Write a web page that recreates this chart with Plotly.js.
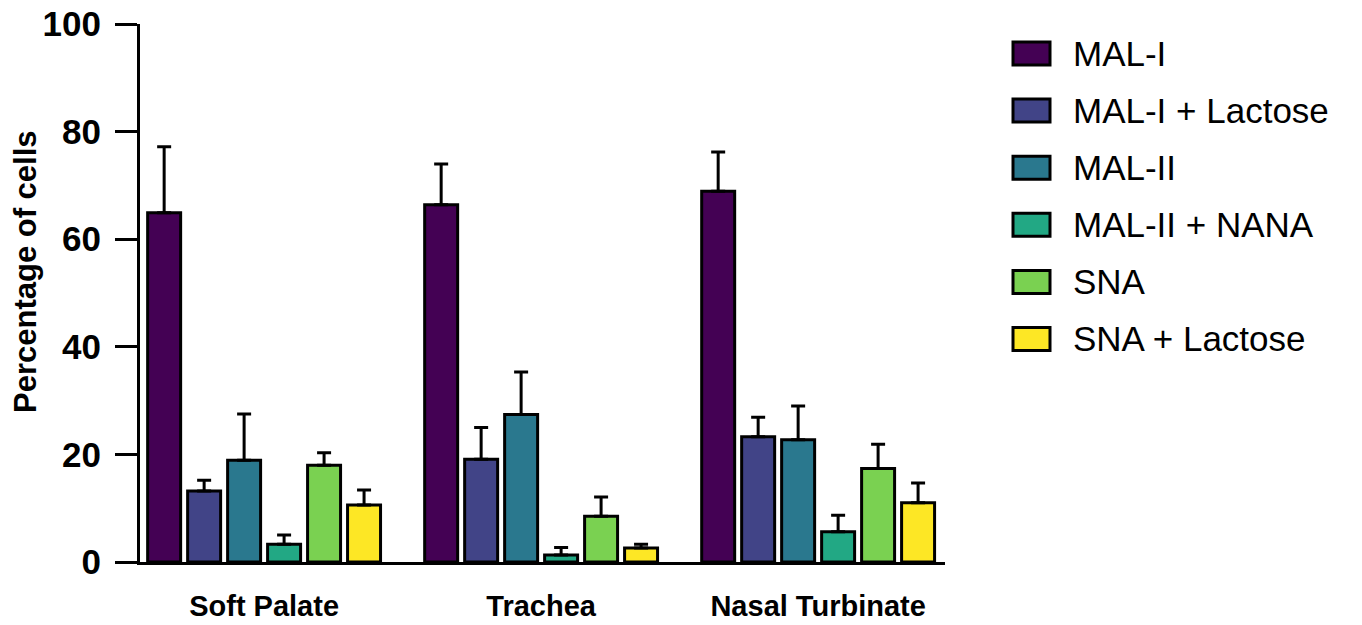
<!DOCTYPE html>
<html>
<head>
<meta charset="utf-8">
<script src="https://cdn.plot.ly/plotly-3.0.1.min.js"></script>
<style>html,body{margin:0;padding:0;background:#fff;}#chart{width:1362px;height:625px;}</style>
</head>
<body>
<div id="chart"></div>
<script>
const categories = ['Soft Palate', 'Trachea', 'Nasal Turbinate'];
const seriesNames = ['MAL-I', 'MAL-I + Lactose', 'MAL-II', 'MAL-II + NANA', 'SNA', 'SNA + Lactose'];
const seriesColors = ['#440154', '#414487', '#2a788e', '#22a884', '#7ad151', '#fde725'];

const malI        = [64.9, 66.4, 68.9];
const malILac     = [13.2, 19.1, 23.3];
const malII       = [18.9, 27.4, 22.7];
const malIINana   = [3.3, 1.3, 5.6];
const sna         = [18.0, 8.5, 17.4];
const snaLac      = [10.6, 2.6, 11.0];

const malIErr      = [12.3, 7.6, 7.3];
const malILacErr   = [2.0, 5.9, 3.6];
const malIIErr     = [8.6, 7.9, 6.3];
const malIINanaErr = [1.7, 1.4, 3.1];
const snaErr       = [2.3, 3.6, 4.5];
const snaLacErr    = [2.8, 0.7, 3.7];

const yTicks = [0, 20, 40, 60, 80, 100];

const values = [malI, malILac, malII, malIINana, sna, snaLac];
const errors = [malIErr, malILacErr, malIIErr, malIINanaErr, snaErr, snaLacErr];

const FONT = '"Liberation Sans", Arial, Helvetica, sans-serif';

const traces = seriesNames.map((name, i) => ({
  type: 'bar',
  name: name,
  x: categories,
  y: values[i],
  marker: { color: seriesColors[i], line: { color: '#000', width: 3 } },
  error_y: {
    type: 'data', symmetric: false,
    array: errors[i], arrayminus: values[i].map(() => 0),
    color: '#000', thickness: 3, width: 7
  },
  showlegend: false
}));

// plot area geometry (pixels)
const W = 1362, H = 625;
const mL = 140, mR = 417, mT = 24, mB = 63;
const pw = W - mL - mR, ph = H - mT - mB;
const px2x = p => (p - mL) / pw;
const px2y = p => (H - mB - p) / ph;

const shapes = [];
const annotations = [];
seriesNames.forEach((name, i) => {
  const cy = 53.5 + i * 57.1;
  shapes.push({
    type: 'rect', xref: 'paper', yref: 'paper',
    x0: px2x(1013), x1: px2x(1050), y0: px2y(cy + 11.5), y1: px2y(cy - 11.5),
    fillcolor: seriesColors[i], line: { color: '#000', width: 3 }
  });
  annotations.push({
    xref: 'paper', yref: 'paper', x: px2x(1071), y: px2y(cy),
    xanchor: 'left', yanchor: 'middle', showarrow: false,
    text: name, font: { family: FONT, size: 35, color: '#000' }
  });
});

annotations.push({
  xref: 'paper', yref: 'paper', x: px2x(25), y: px2y(272),
  xanchor: 'center', yanchor: 'middle', showarrow: false, textangle: -90,
  text: '<b>Percentage of cells</b>', font: { family: FONT, size: 31, color: '#000' }
});

const layout = {
  width: W, height: H,
  margin: { l: mL, r: mR, t: mT, b: mB, pad: 0 },
  paper_bgcolor: '#fff', plot_bgcolor: '#fff',
  barmode: 'group', bargap: 0.134, bargroupgap: 0.175,
  showlegend: false,
  xaxis: {
    type: 'category', range: [-0.448, 2.458],
    showline: true, linecolor: '#000', linewidth: 3,
    ticks: '', showgrid: false, zeroline: false,
    tickfont: { family: FONT, size: 29, color: '#000', weight: 'bold' },
    ticklabelstandoff: 16
  },
  yaxis: {
    range: [0, 100], tickvals: yTicks, ticktext: yTicks.map(v => '<b>' + v + '</b>'),
    showline: true, linecolor: '#000', linewidth: 3,
    ticks: 'outside', ticklen: 22, tickwidth: 3, tickcolor: '#000',
    showgrid: false, zeroline: false,
    tickfont: { family: FONT, size: 35, color: '#000' },
    ticklabelstandoff: 7
  },
  shapes: shapes,
  annotations: annotations,
  font: { family: FONT }
};

Plotly.newPlot('chart', traces, layout, { displayModeBar: false, staticPlot: true });
</script>
</body>
</html>
